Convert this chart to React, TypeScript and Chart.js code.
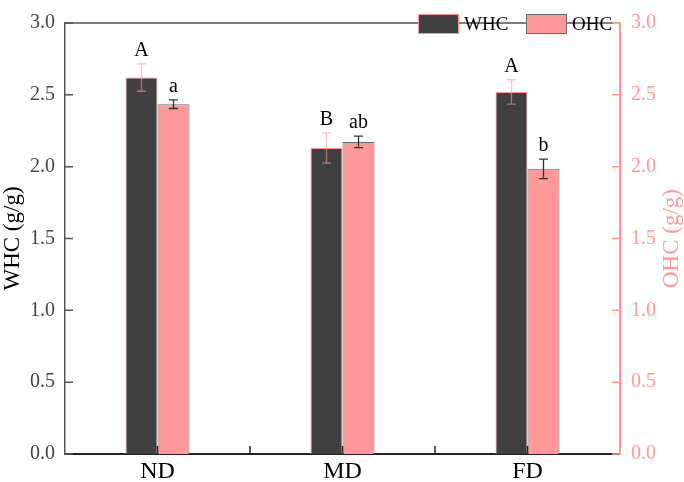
import React, { useEffect, useRef } from "react";
import { Chart, registerables } from "chart.js";
Chart.register(...registerables);

const categories = ["ND", "MD", "FD"];
const whcValues = [2.62, 2.13, 2.52];
const whcErrors = [0.095, 0.105, 0.085];
const ohcValues = [2.435, 2.172, 1.985];
const ohcErrors = [0.03, 0.04, 0.068];
const whcLetters = ["A", "B", "A"];
const ohcLetters = ["a", "ab", "b"];
const seriesNames = ["WHC", "OHC"];
const axisTitles = ["WHC (g/g)", "OHC (g/g)"];

const FONT = "'Liberation Serif', 'Times New Roman', serif";
const DARK = "#404040";
const PINK = "#ff9999";

const errorBarPlugin = {
  id: "errorBars",
  afterDatasetsDraw(chart: any) {
    const ctx = chart.ctx;
    const errs = [whcErrors, ohcErrors];
    const letters = [whcLetters, ohcLetters];
    const colors = ["rgba(255,153,153,0.6)", "#333333"];
    chart.data.datasets.forEach((ds: any, i: number) => {
      const meta = chart.getDatasetMeta(i);
      const ys = chart.scales[meta.yAxisID];
      meta.data.forEach((bar: any, j: number) => {
        const v = ds.data[j];
        const e = errs[i][j];
        const top = ys.getPixelForValue(v + e);
        const bot = ys.getPixelForValue(v - e);
        const x = bar.x;
        ctx.save();
        ctx.strokeStyle = colors[i];
        ctx.lineWidth = 1.3;
        ctx.beginPath();
        ctx.moveTo(x, top);
        ctx.lineTo(x, bot);
        ctx.moveTo(x - 4.5, top);
        ctx.lineTo(x + 4.5, top);
        ctx.moveTo(x - 4.5, bot);
        ctx.lineTo(x + 4.5, bot);
        ctx.stroke();
        ctx.fillStyle = "#000";
        ctx.font = `20px ${FONT}`;
        ctx.textAlign = "center";
        ctx.textBaseline = "alphabetic";
        ctx.fillText(letters[i][j], x, top - 8);
        ctx.restore();
      });
    });
  },
};

const framePlugin = {
  id: "frame",
  afterDraw(chart: any) {
    const ctx = chart.ctx;
    const { left, right, top, bottom } = chart.chartArea;
    const xs = chart.scales.x;
    const y = chart.scales.y;
    const y2 = chart.scales.y2;
    ctx.save();
    // top border
    ctx.strokeStyle = "#555";
    ctx.lineWidth = 1.5;
    ctx.beginPath();
    ctx.moveTo(left, top);
    ctx.lineTo(right - 6, top);
    ctx.stroke();
    ctx.strokeStyle = PINK;
    ctx.beginPath();
    ctx.moveTo(right - 6, top);
    ctx.lineTo(right, top);
    ctx.stroke();
    // x ticks (inward)
    ctx.strokeStyle = "#222";
    ctx.lineWidth = 1.5;
    ctx.beginPath();
    categories.forEach((_, i) => {
      const px = xs.getPixelForValue(i);
      ctx.moveTo(px, bottom);
      ctx.lineTo(px, bottom - 8);
      if (i < categories.length - 1) {
        const mx = xs.getPixelForValue(i + 0.5);
        ctx.moveTo(mx, bottom);
        ctx.lineTo(mx, bottom - 8);
      }
    });
    ctx.stroke();
    // left ticks
    ctx.strokeStyle = "#555";
    ctx.beginPath();
    y.ticks.forEach((t: any) => {
      const py = y.getPixelForValue(t.value);
      ctx.moveTo(left, py);
      ctx.lineTo(left + 8, py);
    });
    ctx.stroke();
    // right ticks
    ctx.strokeStyle = PINK;
    ctx.beginPath();
    y2.ticks.forEach((t: any) => {
      const py = y2.getPixelForValue(t.value);
      ctx.moveTo(right, py);
      ctx.lineTo(right - 8, py);
    });
    ctx.stroke();
    // axis titles
    ctx.font = `23px ${FONT}`;
    ctx.textAlign = "center";
    ctx.textBaseline = "middle";
    const cy = (top + bottom) / 2;
    ctx.fillStyle = "#000";
    ctx.save();
    ctx.translate(13, cy);
    ctx.rotate(-Math.PI / 2);
    ctx.fillText(axisTitles[0], 0, 0);
    ctx.restore();
    ctx.fillStyle = PINK;
    ctx.save();
    ctx.translate(672, cy);
    ctx.rotate(-Math.PI / 2);
    ctx.fillText(axisTitles[1], 0, 0);
    ctx.restore();
    // legend
    const items = chart.data.datasets.map((ds: any) => ({
      label: ds.label,
      fill: ds.backgroundColor,
      stroke: ds.borderColor,
    }));
    const boxX = [418, 526];
    ctx.font = `19px ${FONT}`;
    ctx.textAlign = "left";
    ctx.textBaseline = "middle";
    items.forEach((it: any, i: number) => {
      ctx.fillStyle = it.fill;
      ctx.fillRect(boxX[i], 14, 41, 20);
      ctx.strokeStyle = it.stroke;
      ctx.lineWidth = 1;
      ctx.strokeRect(boxX[i] + 0.5, 14.5, 40, 19);
      ctx.fillStyle = "#000";
      ctx.fillText(it.label, boxX[i] + 46, 25);
    });
    ctx.restore();
  },
};

export default function App() {
  const ref = useRef<HTMLCanvasElement | null>(null);
  useEffect(() => {
    if (!ref.current) return;
    const chart = new Chart(ref.current, {
      type: "bar",
      data: {
        labels: categories,
        datasets: [
          {
            label: seriesNames[0],
            data: whcValues,
            backgroundColor: DARK,
            borderColor: PINK,
            borderWidth: 1,
            yAxisID: "y",
            categoryPercentage: 0.346,
            barPercentage: 1,
          },
          {
            label: seriesNames[1],
            data: ohcValues,
            backgroundColor: PINK,
            borderColor: "#6b6b6b",
            borderWidth: 1,
            yAxisID: "y2",
            categoryPercentage: 0.346,
            barPercentage: 1,
          },
        ],
      },
      options: {
        animation: false,
        responsive: false,
        maintainAspectRatio: false,
        layout: { padding: { top: 7, left: 0, right: 0, bottom: 0 } },
        plugins: { legend: { display: false }, tooltip: { enabled: false } },
        scales: {
          x: {
            offset: true,
            grid: { display: false, drawTicks: false },
            border: { display: true, color: "#222", width: 2 },
            ticks: { color: "#000", font: { family: FONT, size: 24 }, padding: 3 },
            afterFit: (s: any) => { s.height = 28; },
          },
          y: {
            position: "left",
            min: 0,
            max: 3,
            grid: { display: false, drawTicks: false },
            border: { display: true, color: "#555", width: 1.5 },
            ticks: {
              stepSize: 0.5,
              color: "#444",
              font: { family: FONT, size: 20 },
              padding: 10,
              callback: (v: any) => Number(v).toFixed(1),
            },
            afterFit: (s: any) => { s.width = 65; },
          },
          y2: {
            position: "right",
            min: 0,
            max: 3,
            grid: { display: false, drawTicks: false },
            border: { display: true, color: PINK, width: 2 },
            ticks: {
              stepSize: 0.5,
              color: PINK,
              font: { family: FONT, size: 20 },
              padding: 11,
              callback: (v: any) => Number(v).toFixed(1),
            },
            afterFit: (s: any) => { s.width = 64; },
          },
        },
      },
      plugins: [errorBarPlugin, framePlugin],
    });
    return () => chart.destroy();
  }, []);
  return (
    <div style={{ position: "fixed", left: 0, top: 0, width: 684, height: 482, background: "#fff" }}>
      <canvas ref={ref} width={684} height={482} style={{ display: "block" }} />
    </div>
  );
}
